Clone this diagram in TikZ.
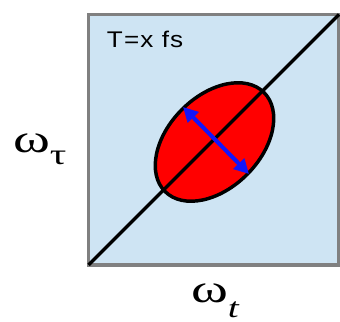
\documentclass[tikz,border=0pt]{standalone}
\usepackage{fontspec}
\setmainfont{Liberation Serif}
\newfontfamily\panelfont[FakeStretch=1.15,LetterSpace=5]{Liberation Sans}
\newfontfamily\axisfont[FakeStretch=1.4]{Liberation Serif}
\usepackage{tikz}
\usetikzlibrary{arrows.meta,positioning,calc}
\usepackage{xcolor}
\definecolor{panelbg}{RGB}{206,228,243}
\definecolor{framegrey}{RGB}{128,128,128}
\definecolor{spotred}{RGB}{255,0,0}
\definecolor{widthblue}{RGB}{20,20,250}

\begin{document}
\begin{tikzpicture}[x=0.75pt,y=0.75pt,every node/.style={inner sep=0pt,outer sep=0pt}]
  \useasboundingbox (0,0) rectangle (340,322);
  \clip (0,0) rectangle (340,322);
  \coordinate (sw) at (88.5,57); \coordinate (ne) at (339,307.5);
  \draw[framegrey,fill=panelbg,line width=2.3pt] (sw) rectangle (ne);
  \coordinate (c) at (214.5,180);
  \draw[fill=spotred,line width=2.6pt,rotate around={45:(c)}] (c) ellipse (70 and 46);
  \draw[line width=2.6pt] (sw) -- (ne);
  \coordinate (a1) at (183,215); \coordinate (a2) at (249,148);
  \draw[widthblue,line width=3pt,{Triangle[length=11pt,width=11pt]}-{Triangle[length=11pt,width=11pt]}] (a1) -- (a2);
  \node[anchor=base west,font=\panelfont\fontsize{17}{20}\selectfont] (tlab) at (107,274) {T=x fs};
  \node[anchor=base west] (wtau) at (13,169) {\axisfont\fontsize{30}{32}\selectfont ω\raisebox{-9pt}{\fontsize{22}{24}\selectfont τ}};
  \node[anchor=base west] (wt) at (191,19) {\axisfont\fontsize{30}{32}\selectfont ω\raisebox{-11pt}{\fontsize{21}{24}\selectfont\itshape t}};
\end{tikzpicture}
\end{document}
